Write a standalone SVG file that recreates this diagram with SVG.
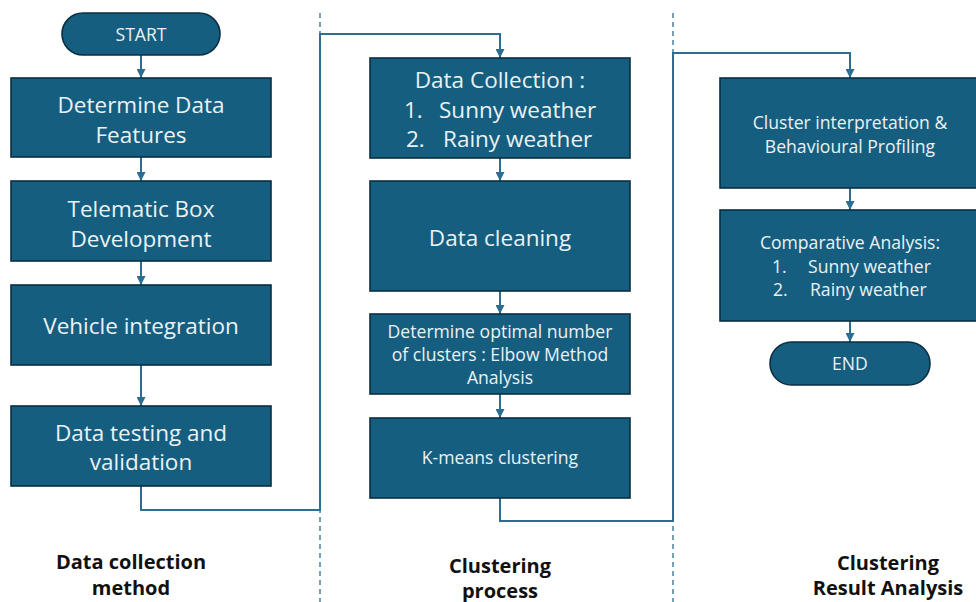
<svg xmlns="http://www.w3.org/2000/svg" width="976" height="602" viewBox="0 0 976 602">
  <style>
    .box { fill: #165e7f; stroke: #0b2f42; stroke-width: 1.6; }
    .t { fill: #eaf2f5; font-family: "Open Sans", "Liberation Sans", sans-serif; text-anchor: middle; dominant-baseline: central; }
    .l { text-anchor: start; }
    .big { font-size: 22.5px; }
    .mid { font-size: 17.6px; }
    .cap { fill: #111111; font-family: "Open Sans", "Liberation Sans", sans-serif; font-weight: bold; font-size: 20px; text-anchor: middle; dominant-baseline: central; }
    .flow { fill: none; stroke: #2b6e91; stroke-width: 2; marker-end: url(#arrow); }
    .lane { fill: none; stroke: #2b6e91; stroke-width: 1.3; stroke-dasharray: 5 4; }
  </style>
  <defs>
    <marker id="arrow" viewBox="0 0 10 10" refX="10" refY="5" markerWidth="4.5" markerHeight="4.5" orient="auto">
      <path d="M0,0 L10,5 L0,10 Z" fill="#2b6e91"/>
    </marker>
  </defs>

  <rect width="976" height="602" fill="#ffffff"/>

  <!-- lane separators -->
  <g id="lanes">
    <line class="lane" x1="320" y1="13" x2="320" y2="602"/>
    <line class="lane" x1="673" y1="13" x2="673" y2="602"/>
  </g>

  <!-- connectors -->
  <g id="connectors">
    <path class="flow" d="M141,55 V78"/>
    <path class="flow" d="M141,157 V181"/>
    <path class="flow" d="M141,261 V285"/>
    <path class="flow" d="M141,365 V406"/>
    <path class="flow" d="M141,486 V510 H320 V34 H500 V58"/>
    <path class="flow" d="M500,158 V181"/>
    <path class="flow" d="M500,291 V314"/>
    <path class="flow" d="M500,394 V418"/>
    <path class="flow" d="M500,498 V521 H673 V53 H850 V78"/>
    <path class="flow" d="M850,188 V210"/>
    <path class="flow" d="M850,321 V342"/>
  </g>

  <!-- data collection method -->
  <g id="start">
    <rect class="box" x="62" y="13" width="158" height="42" rx="21" ry="21"/>
    <text class="t mid" x="141" y="34">START</text>
  </g>
  <g id="features">
    <rect class="box" x="11" y="78" width="260" height="79"/>
    <text class="t big" x="141" y="104">Determine Data</text>
    <text class="t big" x="141" y="134">Features</text>
  </g>
  <g id="telematic">
    <rect class="box" x="11" y="181" width="260" height="80"/>
    <text class="t big" x="141" y="208">Telematic Box</text>
    <text class="t big" x="141" y="238">Development</text>
  </g>
  <g id="vehicle">
    <rect class="box" x="11" y="285" width="260" height="80"/>
    <text class="t big" x="141" y="325">Vehicle integration</text>
  </g>
  <g id="testing">
    <rect class="box" x="11" y="406" width="260" height="80"/>
    <text class="t big" x="141" y="432">Data testing and</text>
    <text class="t big" x="141" y="461">validation</text>
  </g>

  <!-- clustering process -->
  <g id="collection">
    <rect class="box" x="370" y="58" width="260" height="100"/>
    <text class="t big" x="500" y="79">Data Collection :</text>
    <text class="t big l" x="404" y="109">1.</text>
    <text class="t big l" x="439" y="109">Sunny weather</text>
    <text class="t big l" x="406" y="138">2.</text>
    <text class="t big l" x="443" y="138">Rainy weather</text>
  </g>
  <g id="cleaning">
    <rect class="box" x="370" y="181" width="260" height="110"/>
    <text class="t big" x="500" y="237">Data cleaning</text>
  </g>
  <g id="elbow">
    <rect class="box" x="370" y="314" width="260" height="80"/>
    <text class="t mid" x="500" y="331">Determine optimal number</text>
    <text class="t mid" x="500" y="354">of clusters : Elbow Method</text>
    <text class="t mid" x="500" y="377">Analysis</text>
  </g>
  <g id="kmeans">
    <rect class="box" x="370" y="418" width="260" height="80"/>
    <text class="t mid" x="500" y="457">K-means clustering</text>
  </g>

  <!-- clustering result analysis -->
  <g id="interpretation">
    <rect class="box" x="720" y="78" width="262" height="110"/>
    <text class="t mid" x="850" y="122">Cluster interpretation &amp;</text>
    <text class="t mid" x="850" y="146">Behavioural Profiling</text>
  </g>
  <g id="comparative">
    <rect class="box" x="720" y="210" width="262" height="111"/>
    <text class="t mid" x="850" y="242">Comparative Analysis:</text>
    <text class="t mid l" x="772" y="266">1.</text>
    <text class="t mid l" x="808" y="266">Sunny weather</text>
    <text class="t mid l" x="773" y="289">2.</text>
    <text class="t mid l" x="810" y="289">Rainy weather</text>
  </g>
  <g id="end">
    <rect class="box" x="770" y="342" width="160" height="43" rx="21.5" ry="21.5"/>
    <text class="t mid" x="850" y="363">END</text>
  </g>

  <!-- lane captions -->
  <g id="captions">
    <text class="cap" x="131" y="561">Data collection</text>
    <text class="cap" x="131" y="587">method</text>
    <text class="cap" x="500" y="565">Clustering</text>
    <text class="cap" x="500" y="590">process</text>
    <text class="cap" x="888" y="562">Clustering</text>
    <text class="cap" x="888" y="587">Result Analysis</text>
  </g>
</svg>
